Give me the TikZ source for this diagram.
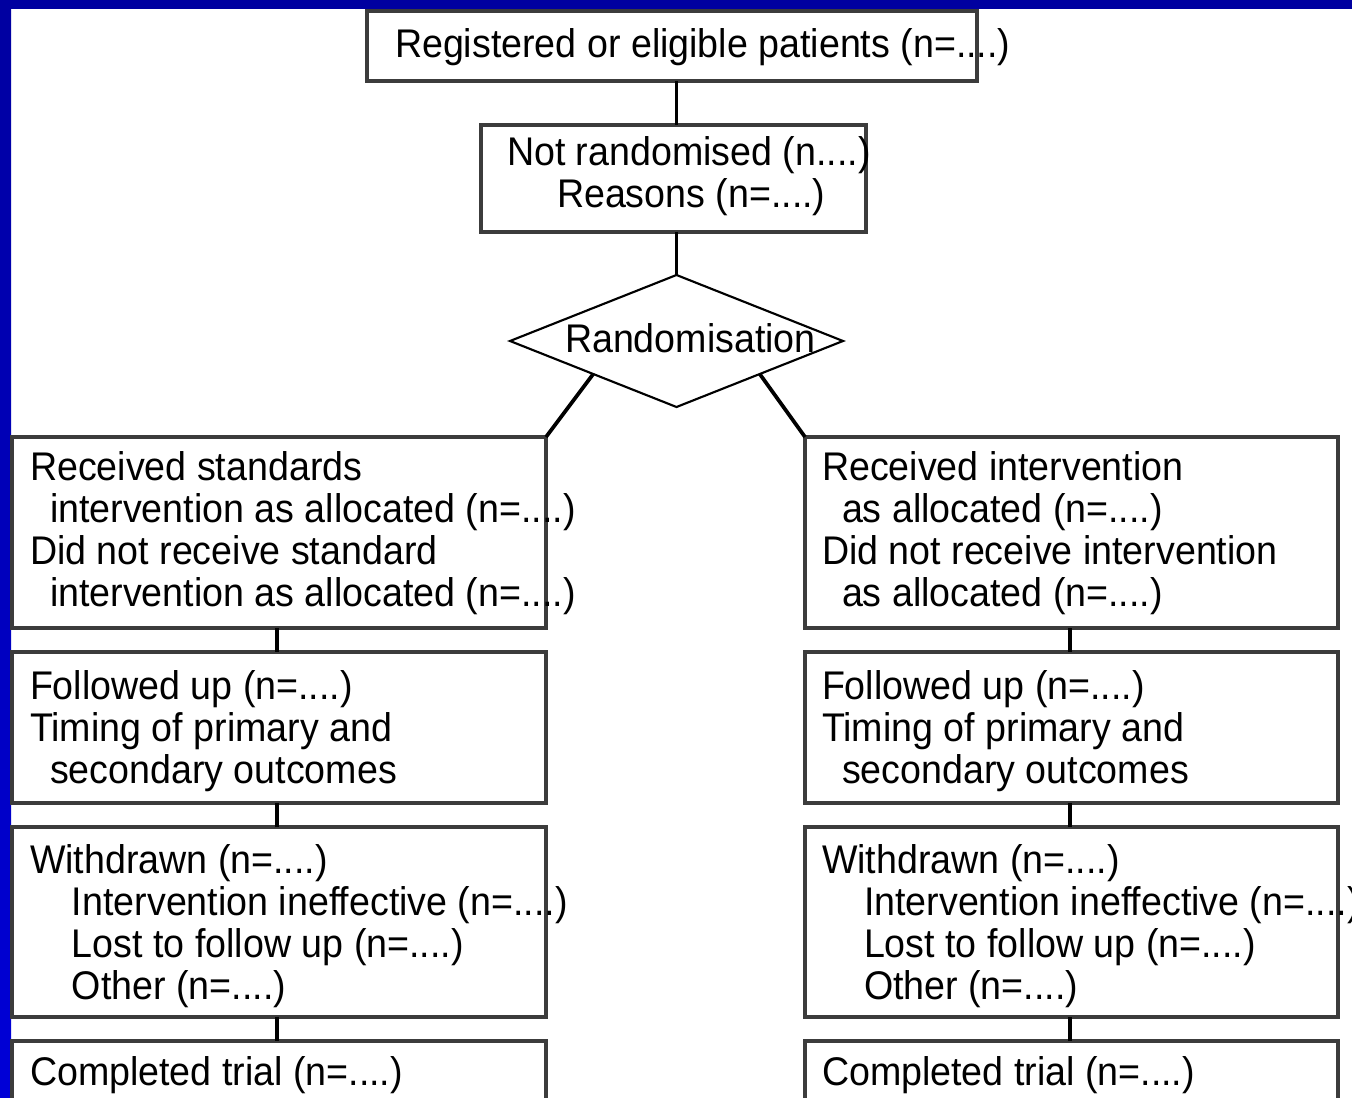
\documentclass[tikz,border=0pt]{standalone}
\usepackage{fontspec}
\setmainfont[FakeStretch=0.94]{Liberation Sans}
\usetikzlibrary{shapes.geometric,fit,calc}
\definecolor{boxgray}{RGB}{60,60,60}
\definecolor{bluedark}{RGB}{0,0,160}
\definecolor{bluelight}{RGB}{0,0,215}
\newcommand{\mylines}[1]{\vtop{\baselineskip=31.5pt #1}}
\tikzset{
  boxr/.style={draw=boxgray, line width=2.3pt, inner sep=0pt, outer sep=0pt},
  conn/.style={draw=black, line width=2.8pt},
  txt/.style={anchor=base west, inner sep=0pt, outer sep=0pt, font=\fontsize{30pt}{31.5pt}\selectfont, text=black},
}
\begin{document}
\begin{tikzpicture}[x=0.75pt,y=-0.75pt]
\useasboundingbox (0,0) rectangle (1352,1098);
\clip (0,0) rectangle (1352,1098);
\fill[white] (0,0) rectangle (1352,1098);
\shade[top color=bluedark, bottom color=bluelight] (0,0) rectangle (11,1098);
\fill[bluedark] (0,0) rectangle (1352,9);

% boxes
\node[boxr, fit={(367,11) (977,81)}] (top) {};
\node[boxr, fit={(481,125) (866,232)}] (nr) {};
\node[diamond, draw=black, line width=1.6pt, minimum width=249.75pt, minimum height=99pt, inner sep=0pt, outer sep=0pt] (rand) at (676.5,341) {};
\node[boxr, fit={(12,437) (546,628)}] (L1) {};
\node[boxr, fit={(12,652) (546,803)}] (L2) {};
\node[boxr, fit={(12,827) (546,1017)}] (L3) {};
\node[boxr, fit={(12,1041) (546,1130)}] (L4) {};
\node[boxr, fit={(805,437) (1338,628)}] (R1) {};
\node[boxr, fit={(805,652) (1338,803)}] (R2) {};
\node[boxr, fit={(805,827) (1338,1017)}] (R3) {};
\node[boxr, fit={(805,1041) (1338,1130)}] (R4) {};

% connectors
\draw[conn] (top.south -| rand.north) -- (nr.north -| rand.north);
\draw[conn] (nr.south -| rand.north) -- (rand.north);
\draw[conn] ($(rand.west)!0.5!(rand.south)$) -- (L1.north east);
\draw[conn] ($(rand.east)!0.5!(rand.south)$) -- (R1.north west);
\draw[conn] ([xshift=-1.5pt]L1.south) -- ([xshift=-1.5pt]L2.north);
\draw[conn] ([xshift=-1.5pt]L2.south) -- ([xshift=-1.5pt]L3.north);
\draw[conn] ([xshift=-1.5pt]L3.south) -- ([xshift=-1.5pt]L4.north);
\draw[conn] ([xshift=-1.1pt]R1.south) -- ([xshift=-1.1pt]R2.north);
\draw[conn] ([xshift=-1.1pt]R2.south) -- ([xshift=-1.1pt]R3.north);
\draw[conn] ([xshift=-1.1pt]R3.south) -- ([xshift=-1.1pt]R4.north);

% texts
\node[txt] (tTop) at (395,58) {Registered or eligible patients (n=....)};
\node[txt] (tNR) at (507,166) {\mylines{\hbox{Not randomised (n....)}\hbox{\kern37.5pt Reasons (n=....)}}};
\node[txt] (tRand) at (565,352) {Randomisation};

\node[txt] (tL1) at (30,480) {\mylines{%
  \hbox{Received standards}%
  \hbox{\kern15pt intervention as allocated (n=....)}%
  \hbox{Did not receive standard}%
  \hbox{\kern15pt intervention as allocated (n=....)}}};
\node[txt] (tR1) at (822,480) {\mylines{%
  \hbox{Received intervention}%
  \hbox{\kern15pt as allocated (n=....)}%
  \hbox{Did not receive intervention}%
  \hbox{\kern15pt as allocated (n=....)}}};

\node[txt] (tL2) at (30,699) {\mylines{%
  \hbox{Followed up (n=....)}%
  \hbox{Timing of primary and}%
  \hbox{\kern15pt secondary outcomes}}};
\node[txt] (tR2) at (822,699) {\mylines{%
  \hbox{Followed up (n=....)}%
  \hbox{Timing of primary and}%
  \hbox{\kern15pt secondary outcomes}}};

\node[txt] (tL3) at (30,873) {\mylines{%
  \hbox{Withdrawn (n=....)}%
  \hbox{\kern31.5pt Intervention ineffective (n=....)}%
  \hbox{\kern31.5pt Lost to follow up (n=....)}%
  \hbox{\kern31.5pt Other (n=....)}}};
\node[txt] (tR3) at (822,873) {\mylines{%
  \hbox{Withdrawn (n=....)}%
  \hbox{\kern31.5pt Intervention ineffective (n=....)}%
  \hbox{\kern31.5pt Lost to follow up (n=....)}%
  \hbox{\kern31.5pt Other (n=....)}}};

\node[txt] (tL4) at (30,1085) {Completed trial (n=....)};
\node[txt] (tR4) at (822,1085) {Completed trial (n=....)};
\end{tikzpicture}
\end{document}
